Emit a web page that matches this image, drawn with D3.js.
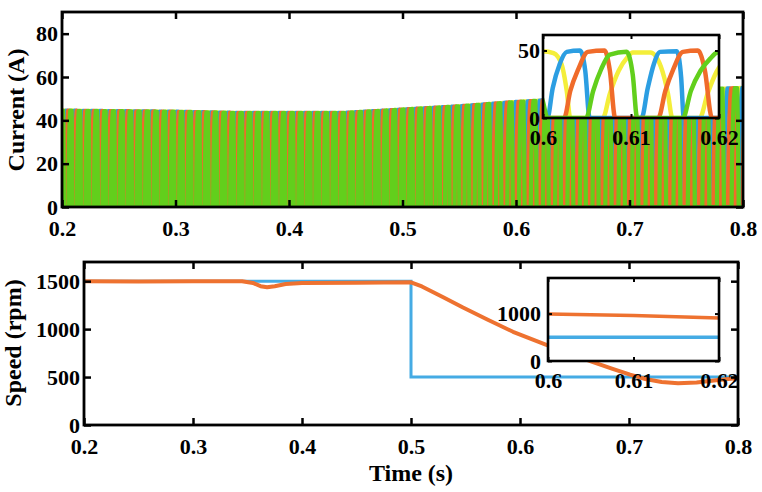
<!DOCTYPE html>
<html><head><meta charset="utf-8">
<script src="https://cdn.jsdelivr.net/npm/d3@7"></script>
<style>
body{margin:0;background:#fff;}
text{font-family:"Liberation Serif","Times New Roman",serif;font-weight:bold;fill:#000;}
</style></head><body>
<svg id="chart" width="762" height="492"></svg>
<script>
// ================= DATA =================
// Ticks
const timeTicks = [0.2, 0.3, 0.4, 0.5, 0.6, 0.7, 0.8];
const currentTicks = [0, 20, 40, 60, 80];
const speedTicks = [0, 500, 1000, 1500];
const insetTimeTicks = [0.6, 0.61, 0.62];
const insetCurrentTicks = [0, 50];
const insetSpeedTicks = [0, 1000];

// Phase currents (order of drawing: yellow, blue, orange, green)
const phaseNames = ["D", "A", "B", "C"];
const phaseOffsets = [0, 0.25, 0.5, 0.75];           // fraction of one electrical period
// Electrical period (s) of each phase current
const periodTimes = [0.2, 0.5, 0.55, 0.6, 0.65, 0.7, 0.75, 0.8];
const periodValues = [0.0075, 0.0075, 0.0088, 0.0105, 0.011, 0.012, 0.0128, 0.013];
// Peak current envelope (A)
const envTimes = [0.2, 0.3, 0.35, 0.45, 0.5, 0.55, 0.6, 0.65, 0.7, 0.75, 0.8];
const envValues = [44.5, 44, 43.5, 43.5, 45, 46.5, 48.5, 50, 52, 54, 55];
// One current pulse (fraction of period, fraction of peak)
const pulseShapeFrac = [0, 0.04, 0.1, 0.16, 0.22, 0.38, 0.43, 0.48];
const pulseShapeLevel = [0, 0.45, 0.75, 0.92, 1, 1, 0.7, 0];

// Inset (0.6 - 0.62 s) phase currents [t, A]
const insetYellow = [[0.5995,49],[0.6,49.5],[0.6012,48],[0.6021,40],[0.6027,20],[0.6031,0],[0.6068,0],[0.6076,18],[0.6086,35],[0.6096,45],[0.6102,48.5],[0.6122,48.5],[0.6134,38],[0.6142,18],[0.6147,0],[0.6178,0],[0.6187,18],[0.6197,34],[0.6205,42]];
const insetBlue = [[0.5995,0],[0.6005,0],[0.6011,22],[0.6019,40],[0.6027,49],[0.6042,50],[0.6048,35],[0.6053,0],[0.6112,0],[0.6119,22],[0.6126,40],[0.6133,49],[0.6152,49.5],[0.6157,30],[0.616,0],[0.6205,0]];
const insetOrange = [[0.5995,0],[0.6024,0],[0.6031,20],[0.604,36],[0.6051,49],[0.607,50],[0.6076,35],[0.6082,0],[0.6131,0],[0.6139,20],[0.6148,36],[0.6159,49],[0.6176,50],[0.6184,35],[0.6192,0],[0.6205,0]];
const insetGreen = [[0.5995,22],[0.6,12],[0.6005,0],[0.6049,0],[0.6057,20],[0.6066,36],[0.6076,47],[0.6095,49],[0.6102,32],[0.6107,0],[0.6159,0],[0.6168,20],[0.6179,35],[0.619,44],[0.6198,48.5],[0.6205,49]];

// Speed (rpm)
const speedRefTime = [0.2, 0.5, 0.5, 0.8];
const speedRefValue = [1500, 1500, 500, 500];
const speedActTime = [0.2, 0.25, 0.3, 0.345, 0.355, 0.362, 0.368, 0.375, 0.385, 0.4, 0.45, 0.5, 0.51, 0.52, 0.53, 0.5477, 0.57, 0.5936, 0.6248, 0.645, 0.667, 0.685, 0.701, 0.715, 0.73, 0.745, 0.762, 0.78, 0.8];
const speedActValue = [1500, 1496, 1500, 1500, 1482, 1448, 1436, 1448, 1470, 1480, 1484, 1488, 1445, 1388, 1330, 1225, 1100, 972, 834, 748, 655, 585, 525, 480, 448, 435, 443, 466, 490];
// Inset (0.6 - 0.62 s)
const insetSpeedTime = [0.6, 0.605, 0.61, 0.615, 0.62];
const insetSpeedAct = [990, 975, 958, 932, 905];
const insetSpeedRef = [500, 500, 500, 500, 500];

// ================= STYLE =================
const phaseColors = ["#F4EE3A", "#2C9EE2", "#F06B2A", "#62CF1C"];
const refColor = "#45ABE4", actColor = "#EE7230";
const tickFont = 22, titleFont = 24;

// ================= DRAW =================
const svg = d3.select("#chart");

const xTop = d3.scaleLinear().domain([0.2, 0.8]).range([62, 743]);
const yTop = d3.scaleLinear().domain([0, 90]).range([207, 12]);
const xBot = d3.scaleLinear().domain([0.2, 0.8]).range([84, 738]);
const yBot = d3.scaleLinear().domain([0, 1700]).range([425, 262]);
const xInA = d3.scaleLinear().domain([0.6, 0.62]).range([543, 719]);
const yInA = d3.scaleLinear().domain([0, 61.5]).range([118, 35]);
const xInB = d3.scaleLinear().domain([0.6, 0.62]).range([548, 719]);
const yInB = d3.scaleLinear().domain([0, 1750]).range([361, 278]);

const periodAt = d3.scaleLinear().domain(periodTimes).range(periodValues).clamp(true);
const envAt = d3.scaleLinear().domain(envTimes).range(envValues).clamp(true);

let clipId = 0;
function panel(x, y, xt, yt, opt) {
  const g = svg.append("g");
  const [x0, x1] = x.range(), [y0, y1] = y.range();
  const id = "clip" + (clipId++);
  g.append("clipPath").attr("id", id).append("rect")
    .attr("x", x0).attr("y", y1).attr("width", x1 - x0).attr("height", y0 - y1);
  if (opt.bg) g.append("rect").attr("x", x0).attr("y", y1).attr("width", x1 - x0).attr("height", y0 - y1).attr("fill", "#fff");
  const plot = g.append("g").attr("clip-path", `url(#${id})`);
  const axes = g.append("g");
  const fmt = d3.format("~g");
  const tl = opt.tick;
  const style = a => a.call(s => s.select(".domain").remove())
    .attr("font-family", null).attr("font-size", null).attr("color", "#000")
    .call(s => s.selectAll("line").attr("stroke-width", opt.tickW))
    .call(s => s.selectAll("text").attr("font-size", tickFont));
  axes.append("g").attr("transform", `translate(0,${y0})`)
    .call(d3.axisBottom(x).tickValues(xt).tickFormat(fmt).tickSizeInner(-tl).tickSizeOuter(0).tickPadding(opt.padX)).call(style);
  axes.append("g").attr("transform", `translate(0,${y1})`)
    .call(d3.axisTop(x).tickValues(xt).tickFormat("").tickSizeInner(-tl).tickSizeOuter(0)).call(style);
  axes.append("g").attr("transform", `translate(${x0},0)`)
    .call(d3.axisLeft(y).tickValues(yt).tickFormat(fmt).tickSizeInner(-tl).tickSizeOuter(0).tickPadding(opt.padY)).call(style);
  axes.append("g").attr("transform", `translate(${x1},0)`)
    .call(d3.axisRight(y).tickValues(yt).tickFormat("").tickSizeInner(-tl).tickSizeOuter(0)).call(style);
  const frame = g.append("rect").attr("x", x0).attr("y", y1).attr("width", x1 - x0).attr("height", y0 - y1)
    .attr("fill", "none").attr("stroke", "#000").attr("stroke-width", opt.frameW);
  return { g, plot, axes, frame };
}

// ---- Top: phase currents ----
const topP = panel(xTop, yTop, timeTicks, currentTicks, { tick: 7, tickW: 2.5, frameW: 2.8, padX: 13, padY: 4 });
function phaseWave(k) {
  const pts = [];
  const P0 = periodAt(0.2);
  let t = 0.2 - 2 * P0 + phaseOffsets[k] * P0;
  while (t < 0.81) {
    const P = periodAt(t);
    pulseShapeFrac.forEach((f, i) => { const tt = t + f * P; pts.push([tt, pulseShapeLevel[i] * envAt(tt)]); });
    t += P;
  }
  return pts;
}
const lineTop = d3.line().x(d => xTop(d[0])).y(d => yTop(d[1]));
phaseNames.forEach((n, k) => {
  topP.plot.append("path").datum(phaseWave(k)).attr("d", lineTop)
    .attr("fill", "none").attr("stroke", phaseColors[k]).attr("stroke-width", 4.2)
    .attr("stroke-linejoin", "round");
});
topP.axes.raise(); topP.frame.raise();

// Inset of top
const inA = panel(xInA, yInA, insetTimeTicks, insetCurrentTicks, { bg: true, tick: 4, tickW: 2, frameW: 2.6, padX: 11, padY: 3 });
const lineInA = d3.line().x(d => xInA(d[0])).y(d => yInA(d[1])).curve(d3.curveMonotoneX);
[insetYellow, insetBlue, insetOrange, insetGreen].forEach((arr, k) => {
  inA.plot.append("path").datum(arr).attr("d", lineInA)
    .attr("fill", "none").attr("stroke", phaseColors[k]).attr("stroke-width", 4.5)
    .attr("stroke-linejoin", "round");
});
inA.axes.raise(); inA.frame.raise();

// ---- Bottom: speed ----
const bot = panel(xBot, yBot, timeTicks, speedTicks, { tick: 7, tickW: 2.5, frameW: 2.8, padX: 13, padY: 4 });
const lineBot = d3.line().x(d => xBot(d[0])).y(d => yBot(d[1]));
bot.plot.append("path").datum(speedRefTime.map((t, i) => [t, speedRefValue[i]])).attr("d", lineBot)
  .attr("fill", "none").attr("stroke", refColor).attr("stroke-width", 3);
bot.plot.append("path").datum(speedActTime.map((t, i) => [t, speedActValue[i]])).attr("d", lineBot)
  .attr("fill", "none").attr("stroke", actColor).attr("stroke-width", 4).attr("stroke-linejoin", "round");
bot.axes.raise(); bot.frame.raise();

const inB = panel(xInB, yInB, insetTimeTicks, insetSpeedTicks, { bg: true, tick: 4, tickW: 2, frameW: 2.6, padX: 11, padY: 7 });
const lineInB = d3.line().x(d => xInB(d[0])).y(d => yInB(d[1]));
inB.plot.append("path").datum(insetSpeedTime.map((t, i) => [t, insetSpeedRef[i]])).attr("d", lineInB)
  .attr("fill", "none").attr("stroke", refColor).attr("stroke-width", 3.5);
inB.plot.append("path").datum(insetSpeedTime.map((t, i) => [t, insetSpeedAct[i]])).attr("d", lineInB)
  .attr("fill", "none").attr("stroke", actColor).attr("stroke-width", 3.5);
inB.axes.raise(); inB.frame.raise();

// ---- Titles ----
svg.append("text").attr("transform", "translate(18,110) rotate(-90)").attr("text-anchor", "middle")
  .attr("dy", "0.25em").attr("font-size", titleFont).text("Current (A)");
svg.append("text").attr("transform", "translate(15,343) rotate(-90)").attr("text-anchor", "middle")
  .attr("dy", "0.23em").attr("font-size", titleFont).text("Speed (rpm)");
svg.append("text").attr("x", 411).attr("y", 481).attr("text-anchor", "middle")
  .attr("font-size", titleFont).text("Time (s)");
</script>
</body></html>
